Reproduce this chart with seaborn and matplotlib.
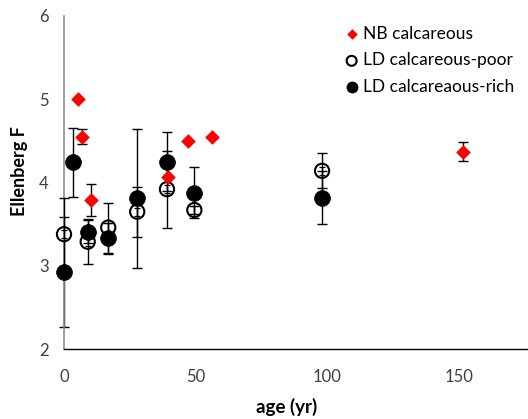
import matplotlib
matplotlib.use("Agg")
import matplotlib.pyplot as plt
import seaborn as sns
import pandas as pd

# NB calcareous sites
nb_age = [5.2, 6.9, 10.1, 39.5, 47.0, 56.2, 151.5]
nb_f = [5.00, 4.55, 3.79, 4.07, 4.50, 4.55, 4.37]
nb_err = [0.0, 0.09, 0.19, 0.0, 0.0, 0.0, 0.115]

# LD calcareous-poor sites
poor_age = [0.0, 9.0, 16.8, 27.8, 39.1, 49.5, 98.0]
poor_f = [3.38, 3.29, 3.46, 3.65, 3.92, 3.67, 4.14]
poor_err = [0.44, 0.27, 0.30, 0.30, 0.46, 0.05, 0.21]

# LD calcareous-rich sites
rich_age = [0.0, 3.5, 9.0, 16.8, 27.8, 39.1, 49.5, 98.0]
rich_f = [2.93, 4.24, 3.41, 3.33, 3.81, 4.25, 3.88, 3.82]
rich_err = [0.66, 0.41, 0.14, 0.19, 0.83, 0.35, 0.31, 0.32]

labels = ["NB calcareous", "LD calcareous-poor", "LD calcareaous-rich"]
x_ticks = [0, 50, 100, 150]
y_ticks = [2, 3, 4, 5, 6]

sns.set_style("white")
plt.rcParams["font.family"] = ["Lato", "DejaVu Sans"]

fig = plt.figure(figsize=(5.28, 4.19), dpi=100)
ax = fig.add_axes([64 / 528, 69.7 / 419, 464 / 528, 333.6 / 419])

nb = pd.DataFrame({"age": nb_age, "F": nb_f})
poor = pd.DataFrame({"age": poor_age, "F": poor_f})
rich = pd.DataFrame({"age": rich_age, "F": rich_f})

eb = dict(fmt="none", ecolor="black", elinewidth=1.0, capsize=3.3, capthick=1.0)


def unclip(container):
    for artist in container.get_children():
        artist.set_clip_on(False)


# error bars
unclip(ax.errorbar(rich_age, rich_f, yerr=rich_err, zorder=2, **eb))
unclip(ax.errorbar(poor_age, poor_f, yerr=poor_err, zorder=4, **eb))
unclip(ax.errorbar(poor_age, poor_f, yerr=0.05, fmt="none", ecolor="black",
                   elinewidth=0.9, capsize=2.2, capthick=0.9, zorder=4))
nb_idx = [i for i, e in enumerate(nb_err) if e > 0]
unclip(ax.errorbar([nb_age[i] for i in nb_idx], [nb_f[i] for i in nb_idx],
                   yerr=[nb_err[i] for i in nb_idx], zorder=5, **eb))

# markers
sns.scatterplot(data=poor, x="age", y="F", ax=ax, marker="o", s=105,
                facecolor="none", edgecolor="black", linewidth=1.5,
                label=labels[1], zorder=3, clip_on=False)
sns.scatterplot(data=rich, x="age", y="F", ax=ax, marker="o", s=130,
                color="black", edgecolor="black", linewidth=0.5,
                label=labels[2], zorder=3, clip_on=False)
sns.scatterplot(data=nb, x="age", y="F", ax=ax, marker="D", s=48,
                color="#ff0000", edgecolor="#ff0000", linewidth=0.5,
                label=labels[0], zorder=6, clip_on=False)

ax.set_xlim(0, 176.2)
ax.set_ylim(2, 6)
ax.set_xticks(x_ticks)
ax.set_yticks(y_ticks)
ax.tick_params(axis="both", labelsize=12, labelcolor="#404040", colors="#808080",
               length=5, width=1.0, direction="out")
ax.tick_params(axis="x", pad=9)
ax.tick_params(axis="y", pad=6)

for side in ["top", "right"]:
    ax.spines[side].set_visible(False)
ax.spines["left"].set_color("#8c8c8c")
ax.spines["left"].set_linewidth(1.2)
ax.spines["left"].set_zorder(2.5)
ax.spines["bottom"].set_color("black")
ax.spines["bottom"].set_linewidth(1.0)

ax.set_xlabel("age (yr)", fontsize=13.5, fontweight="bold", color="black")
ax.xaxis.set_label_coords((287 - 64) / 464, -0.145)
ax.set_ylabel("Ellenberg F", fontsize=13, fontweight="bold", color="black")
ax.yaxis.set_label_coords((28 - 64) / 464, (419 - 171 - 69.7) / 333.6)

handles, labs = ax.get_legend_handles_labels()
order = [labs.index(l) for l in labels]
leg = ax.legend([handles[i] for i in order], [labs[i] for i in order],
                loc="upper left", bbox_to_anchor=(336 / 528, 1 - 19 / 419),
                bbox_transform=fig.transFigure, frameon=False, fontsize=12.5,
                handletextpad=0.15, labelspacing=0.6, handlelength=1.0,
                borderaxespad=0, markerscale=0.7)
for t in leg.get_texts():
    t.set_color("black")

fig.savefig("out.png", dpi=100)
